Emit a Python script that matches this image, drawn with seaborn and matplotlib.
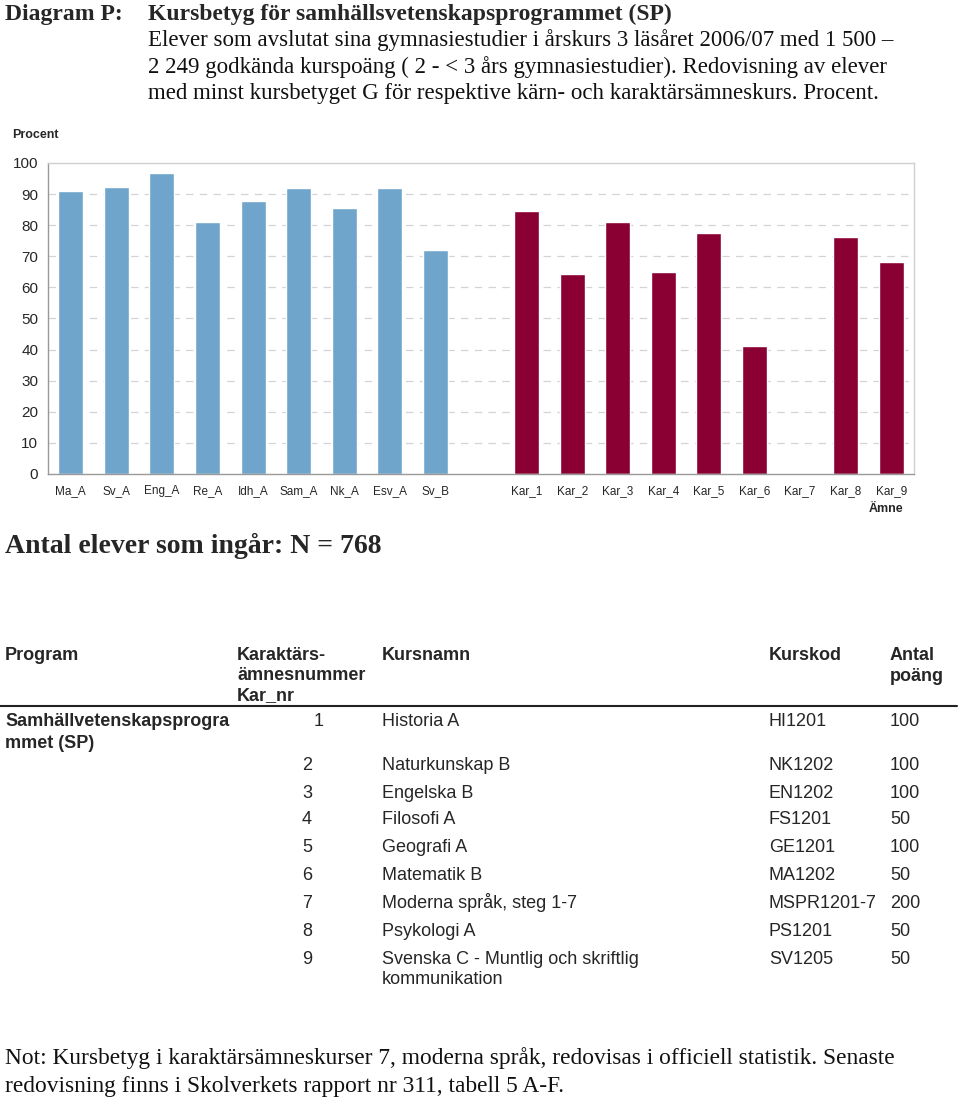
import pandas as pd
import seaborn as sns
import matplotlib.pyplot as plt
from matplotlib.ticker import FixedLocator

# Data
karn_amnen = ['Ma_A', 'Sv_A', 'Eng_A', 'Re_A', 'Idh_A', 'Sam_A', 'Nk_A', 'Esv_A', 'Sv_B']
karn_procent = [91, 92.3, 96.8, 80.9, 87.8, 92, 85.4, 92, 71.9]
kar_amnen = ['Kar_1', 'Kar_2', 'Kar_3', 'Kar_4', 'Kar_5', 'Kar_6', 'Kar_7', 'Kar_8', 'Kar_9']
kar_procent = [84.7, 64.4, 80.9, 64.8, 77.4, 41.3, None, 76.1, 68.2]

tabell_nr = ['1', '2', '3', '4', '5', '6', '7', '8', '9']
tabell_kursnamn = ['Historia A', 'Naturkunskap B', 'Engelska B', 'Filosofi A', 'Geografi A',
                   'Matematik B', 'Moderna språk, steg 1-7', 'Psykologi A',
                   'Svenska C - Muntlig och skriftlig\nkommunikation']
tabell_kurskod = ['HI1201', 'NK1202', 'EN1202', 'FS1201', 'GE1201', 'MA1202',
                  'MSPR1201-7', 'PS1201', 'SV1205']
tabell_poang = ['100', '100', '100', '50', '100', '50', '200', '50', '50']

df = pd.DataFrame({
    'amne': karn_amnen + kar_amnen,
    'procent': karn_procent + kar_procent,
    'grupp': ['karn'] * len(karn_amnen) + ['kar'] * len(kar_amnen),
}).dropna()
order = karn_amnen + [' '] + kar_amnen

sns.set_style('white')
plt.rcParams['font.family'] = ['Liberation Sans', 'DejaVu Sans']

W, H = 960, 1101
fig = plt.figure(figsize=(W / 100, H / 100), dpi=100)
DY = 2.5  # va='center' sits a little high, nudge text down


def px(x, y, dy=DY):
    return x / W, 1 - (y + dy) / H


def cell(x, y, text, step=21, **kw):
    # one text per line, placed on the baseline so accents do not shift rows
    for j, line in enumerate(text.split('\n')):
        fig.text(*px(x, y + step * j, dy=6.5), line, va='baseline', **kw)


ax = fig.add_axes([48 / W, 1 - 474 / H, 866 / W, 311 / H])
sns.barplot(data=df, x='amne', y='procent', hue='grupp', order=order,
            palette={'karn': '#6FA5CA', 'kar': '#8B0033'}, width=0.55,
            dodge=False, legend=False, ax=ax, saturation=1)

ax.set_ylim(0, 100)
ax.set_xlim(-0.5, len(order) - 0.5)
ax.set_yticks(range(0, 101, 10))
ax.set_yticklabels([str(v) for v in range(0, 101, 10)], fontsize=11)
ax.tick_params(axis='y', length=4, width=0.8, color='#999999', pad=3)
ax.tick_params(axis='x', which='major', length=0, labelsize=8.5, pad=8)
ax.xaxis.set_minor_locator(FixedLocator([i - 0.5 for i in range(len(order) + 1)]))
ax.tick_params(axis='x', which='minor', length=4, width=0.8, color='#999999')
ax.set_xlabel('')
ax.set_ylabel('')

for y in range(10, 100, 10):
    ax.axhline(y, color='#d4d4d4', lw=0.9, ls=(0, (6, 5)), zorder=0)
ax.spines['left'].set_color('#999999')
ax.spines['bottom'].set_color('#999999')
ax.spines['top'].set_color('#d0d0d0')
ax.spines['right'].set_color('#d0d0d0')
for s in ax.spines.values():
    s.set_linewidth(1)

fig.text(*px(12, 133), 'Procent', fontsize=9, fontweight='bold', va='center')
fig.text(*px(886, 507), 'Ämne', fontsize=9, fontweight='bold', va='center', ha='center')

# Title block
serif = ['Liberation Serif', 'DejaVu Serif']
fig.text(*px(5, 12), 'Diagram P:', family=serif, fontsize=17, fontweight='bold', va='center')
fig.text(*px(148, 12), 'Kursbetyg för samhällsvetenskapsprogrammet (SP)', family=serif,
         fontsize=17, fontweight='bold', va='center')
title_lines = ['Elever som avslutat sina gymnasiestudier i årskurs 3 läsåret 2006/07 med 1 500 –',
               '2 249 godkända kurspoäng ( 2 - < 3 års gymnasiestudier). Redovisning av elever',
               'med minst kursbetyget G för respektive kärn- och karaktärsämneskurs. Procent.']
for i, t in enumerate(title_lines):
    fig.text(*px(148, 38 + 26.5 * i), t, family=serif, fontsize=16.5, va='center', color='#111111')

fig.text(*px(5, 543), 'Antal elever som ingår: N = 768', family=serif, fontsize=20,
         fontweight='bold', va='center')

# Table
fs = 13
cell(5, 653, 'Program', fontsize=fs, fontweight='bold')
cell(237, 653, 'Karaktärs-\nämnesnummer\nKar_nr', step=20.5, fontsize=fs, fontweight='bold')
cell(382, 653, 'Kursnamn', fontsize=fs, fontweight='bold')
cell(769, 653, 'Kurskod', fontsize=fs, fontweight='bold')
cell(890, 653, 'Antal\npoäng', step=21.5, fontsize=fs, fontweight='bold')
fig.add_artist(plt.Line2D([0, 957 / W], [1 - 706 / H] * 2, color='#222222', lw=1.5))

cell(5, 720, 'Samhällvetenskapsprogra\nmmet (SP)', fontsize=fs, fontweight='bold')
rows_y = [720, 764, 791, 818, 846, 873, 901, 929, 957]
for i, y in enumerate(rows_y):
    cell(314 if i == 0 else 302, y, tabell_nr[i], fontsize=fs)
    cell(382, y, tabell_kursnamn[i], step=20.5, fontsize=fs)
    cell(769, y, tabell_kurskod[i], fontsize=fs)
    cell(890, y, tabell_poang[i], fontsize=fs)

# Footer note
fig.text(*px(5, 1056), 'Not: Kursbetyg i karaktärsämneskurser 7, moderna språk, redovisas i officiell statistik. Senaste',
         family=serif, fontsize=16.8, va='center', color='#111111')
fig.text(*px(5, 1084), 'redovisning finns i Skolverkets rapport nr 311, tabell 5 A-F.',
         family=serif, fontsize=16.8, va='center', color='#111111')

fig.savefig('out.png', dpi=100)
